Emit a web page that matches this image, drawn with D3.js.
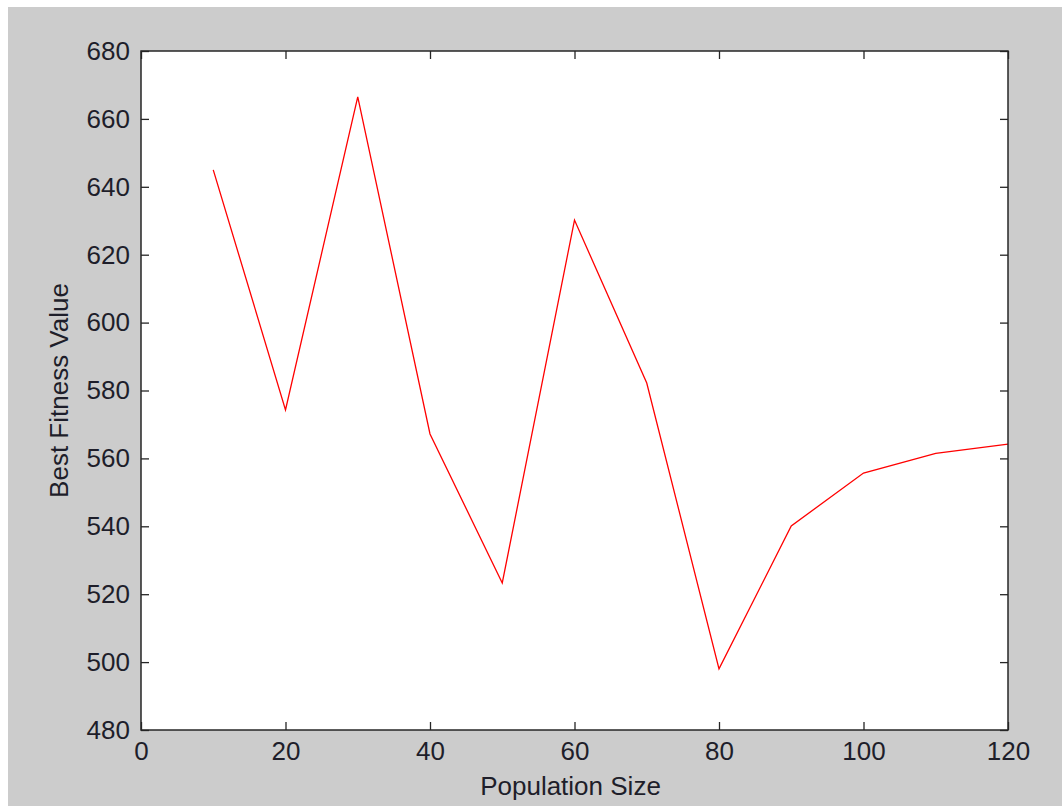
<!DOCTYPE html>
<html>
<head>
<meta charset="utf-8">
<script src="https://cdn.jsdelivr.net/npm/d3@7.9.0/dist/d3.min.js"></script>
<style>
  html, body { margin: 0; padding: 0; background: #fff; }
  svg { display: block; }
  text { font-family: Arial, "Liberation Sans", sans-serif; fill: #1e1e2a; }
</style>
</head>
<body>
<svg id="chart" width="1062" height="806"></svg>
<script>
/* ──── data ──── */
const popSize     = [10, 20, 30, 40, 50, 60, 70, 80, 90, 100, 110, 120];
const bestFitness = [645, 574.3, 666.5, 567.2, 523.3, 630.2, 582.2, 498, 540.1, 555.7, 561.5, 564.2];
const xTicks      = [0, 20, 40, 60, 80, 100, 120];
const yTicks      = [480, 500, 520, 540, 560, 580, 600, 620, 640, 660, 680];

/* ──── layout ──── */
const width    = 1062;
const height   = 806;
const plot     = { left: 141, right: 1008, top: 51, bottom: 730 };
const fontSize = '26px';

const svg = d3.select('#chart');

// grey figure background (little white strip top/left like the screenshot)
svg.append('rect')
   .attr('x', 8).attr('y', 7)
   .attr('width', width - 8).attr('height', height - 7)
   .attr('fill', '#cccccc');

// white axes area
svg.append('rect')
   .attr('x', plot.left).attr('y', plot.top)
   .attr('width', plot.right - plot.left).attr('height', plot.bottom - plot.top)
   .attr('fill', '#ffffff');

/* ──── scales ──── */
const x = d3.scaleLinear().domain([0, 120]).range([plot.left, plot.right]);
const y = d3.scaleLinear().domain([480, 680]).range([plot.bottom, plot.top]);

/* ──── line ──── */
const line = d3.line()
  .x((d, i) => x(popSize[i]))
  .y(d => y(d));

svg.append('path')
   .datum(bestFitness)
   .attr('d', line)
   .attr('fill', 'none')
   .attr('stroke', '#ff0000')
   .attr('stroke-width', 1.3);

/* ──── axes (MATLAB style: inward ticks on all four sides) ──── */
const tick = 8;

function styleAxis (g) {
  g.select('.domain').remove();
  g.selectAll('.tick line').attr('stroke', '#262626').attr('stroke-width', 1.3);
  g.selectAll('.tick text').style('font-size', fontSize).attr('fill', '#1e1e2a');
}

svg.append('g')
   .attr('transform', `translate(0,${plot.bottom})`)
   .call(d3.axisBottom(x).tickValues(xTicks).tickSizeInner(-tick).tickSizeOuter(0).tickPadding(12))
   .call(styleAxis);

svg.append('g')
   .attr('transform', `translate(0,${plot.top})`)
   .call(d3.axisTop(x).tickValues(xTicks).tickSizeInner(-tick).tickSizeOuter(0).tickFormat(''))
   .call(styleAxis);

svg.append('g')
   .attr('transform', `translate(${plot.left},0)`)
   .call(d3.axisLeft(y).tickValues(yTicks).tickSizeInner(-tick).tickSizeOuter(0).tickPadding(11))
   .call(styleAxis);

svg.append('g')
   .attr('transform', `translate(${plot.right},0)`)
   .call(d3.axisRight(y).tickValues(yTicks).tickSizeInner(-tick).tickSizeOuter(0).tickFormat(''))
   .call(styleAxis);

// box
svg.append('rect')
   .attr('x', plot.left).attr('y', plot.top)
   .attr('width', plot.right - plot.left).attr('height', plot.bottom - plot.top)
   .attr('fill', 'none')
   .attr('stroke', '#262626')
   .attr('stroke-width', 1.5);

/* ──── axis labels ──── */
svg.append('text')
   .attr('x', (plot.left + plot.right) / 2 - 4)
   .attr('y', 795)
   .attr('text-anchor', 'middle')
   .style('font-size', fontSize)
   .text('Population Size');

svg.append('text')
   .attr('transform', `translate(68,${(plot.top + plot.bottom) / 2}) rotate(-90)`)
   .attr('text-anchor', 'middle')
   .style('font-size', fontSize)
   .text('Best Fitness Value');
</script>
</body>
</html>
